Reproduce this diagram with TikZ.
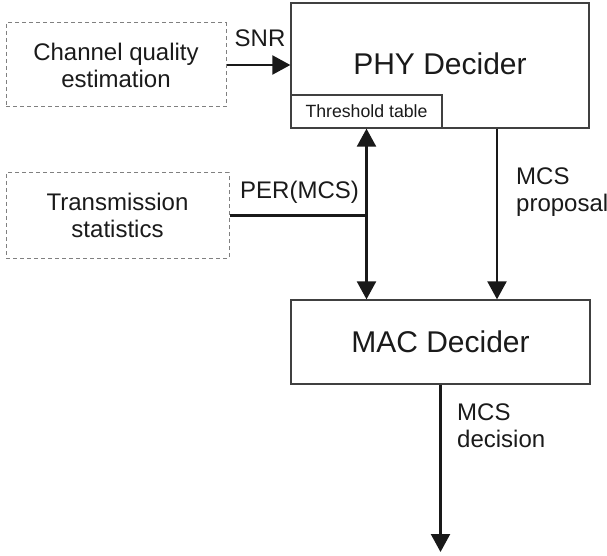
\documentclass[tikz,border=0pt]{standalone}
\usepackage{fontspec}
\setmainfont{Liberation Sans}
\usetikzlibrary{arrows.meta}
\definecolor{boxline}{HTML}{404040}
\definecolor{dashline}{HTML}{808080}
\definecolor{txt}{HTML}{1A1A1A}
\begin{document}
\begin{tikzpicture}[x=1pt,y=-1pt,
  every node/.style={text=txt, inner sep=0pt},
  lbl/.style={font=\fontsize{24}{27}\selectfont, align=left},
  srcbox/.style={draw=dashline, line width=1pt, dash pattern=on 4pt off 3pt,
     font=\fontsize{24}{27}\selectfont, align=center},
  blockbox/.style={draw=boxline, line width=1.3pt, fill=white},
  conn/.style={draw=black!90, line width=2.3pt},
  arr/.style={conn, -{Triangle[length=18pt,width=19pt]}},
  darr/.style={conn, {Triangle[length=18pt,width=19pt]}-{Triangle[length=18pt,width=19pt]}}]
\useasboundingbox (0,0) rectangle (607,556);

\node[srcbox, minimum width=220pt, minimum height=84pt] (chq) at (116,65) {Channel quality\\estimation};
\node[srcbox, minimum width=223pt, minimum height=85pt] (trs) at (117.5,215.5) {Transmission\\statistics};

\node[blockbox, minimum width=298pt, minimum height=125pt] (phy) at (440,65.5) {};
\node[font=\fontsize{30}{34}\selectfont] (phyt) at (440,63.5) {PHY Decider};
\node[blockbox, minimum width=151pt, minimum height=33pt, font=\fontsize{17.7}{20}\selectfont] (thr) at (366.5,111.5) {Threshold table};

\node[blockbox, minimum width=299pt, minimum height=84pt, font=\fontsize{30}{34}\selectfont] (mac) at (440.5,342) {MAC Decider};

\coordinate (px) at (497,0);
\coordinate (out) at (440.5,552);

\draw[arr] (chq.east) -- (phy.west |- chq.east);
\draw[conn] (trs.east) -- (trs.east -| thr.south);
\draw[darr] (thr.south) -- (thr.south |- mac.north);
\draw[arr] (phy.south -| px) -- (mac.north -| px);
\draw[arr] (mac.south) -- (out);

\node[lbl, anchor=base] (snr) at (260,47) {SNR};
\node[lbl, anchor=base west] (per) at (240,198) {PER(MCS)};
\node[lbl, anchor=base west] (prop) at (516,211) {MCS\\proposal};
\node[lbl, anchor=base west] (dec) at (457,447) {MCS\\decision};
\end{tikzpicture}
\end{document}
